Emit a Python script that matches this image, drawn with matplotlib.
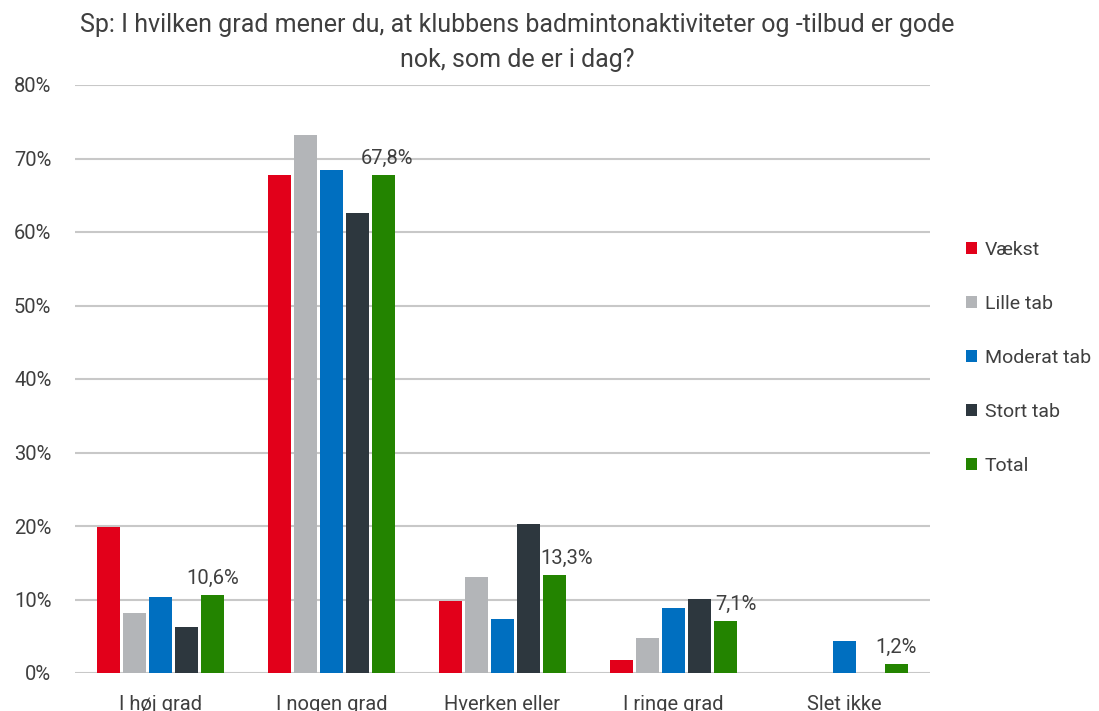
import numpy as np
import matplotlib.pyplot as plt
from matplotlib.ticker import FuncFormatter

plt.rcParams['font.family'] = ['Roboto', 'DejaVu Sans']
plt.rcParams['text.color'] = '#3F3F3F'

categories = ['I høj grad', 'I nogen grad', 'Hverken eller', 'I ringe grad', 'Slet ikke']
series = ['Vækst', 'Lille tab', 'Moderat tab', 'Stort tab', 'Total']
values = {
    'Vækst':       [19.9, 67.8, 9.8, 1.8, 0.0],
    'Lille tab':   [8.2, 73.2, 13.1, 4.8, 0.0],
    'Moderat tab': [10.3, 68.4, 7.3, 8.8, 4.3],
    'Stort tab':   [6.3, 62.6, 20.3, 10.1, 0.0],
    'Total':       [10.6, 67.8, 13.3, 7.1, 1.2],
}
colors = ['#E2001A', '#B3B5B8', '#006FC0', '#2D373E', '#238400']
label_dx = [0, 4, 12, 10, 0]  # pixel nudges for the Total labels

fig = plt.figure(figsize=(10.99, 7.11), dpi=100)
ax = fig.add_axes([75 / 1099, 1 - 673 / 711, 855 / 1099, 588 / 711])

x = np.arange(len(categories))
w = 0.152
for i, (name, c) in enumerate(zip(series, colors)):
    offs = (i - 2) * w
    ax.bar(x + offs, values[name], width=w * 0.9, color=c, label=name, zorder=3)

for j, v in enumerate(values['Total']):
    ax.annotate(f'{v:.1f}%'.replace('.', ','), (x[j] + 2 * w, v),
                xytext=(label_dx[j] * 0.72, 5), textcoords='offset points',
                ha='center', va='bottom', fontsize=14.5, color='#3F3F3F')

ax.set_ylim(0, 80)
ax.set_xlim(-0.5, 4.5)
ax.set_yticks(range(0, 81, 10))
ax.yaxis.set_major_formatter(FuncFormatter(lambda v, p: f'{int(v)}%'))
ax.set_xticks(x)
ax.set_xticklabels(categories)
ax.tick_params(axis='both', length=0, labelsize=14.5, colors='#3F3F3F')
ax.tick_params(axis='x', pad=16)
ax.tick_params(axis='y', pad=17)
ax.grid(axis='y', color='#C8C8C8', linewidth=1.5, zorder=0)
for s in ax.spines.values():
    s.set_visible(False)

fig.text(517 / 1099, 1 - 25 / 711, 'Sp: I hvilken grad mener du, at klubbens badmintonaktiviteter og -tilbud er gode',
         ha='center', va='center', fontsize=18)
fig.text(517 / 1099, 1 - 60 / 711, 'nok, som de er i dag?', ha='center', va='center', fontsize=18)

fig.legend(loc='center left', bbox_to_anchor=(948 / 1099, 1 - 358 / 711), frameon=False,
           fontsize=14, handlelength=0.6, handleheight=0.6, handletextpad=0.4, labelspacing=1.85)

fig.savefig('out.png', dpi=100)
